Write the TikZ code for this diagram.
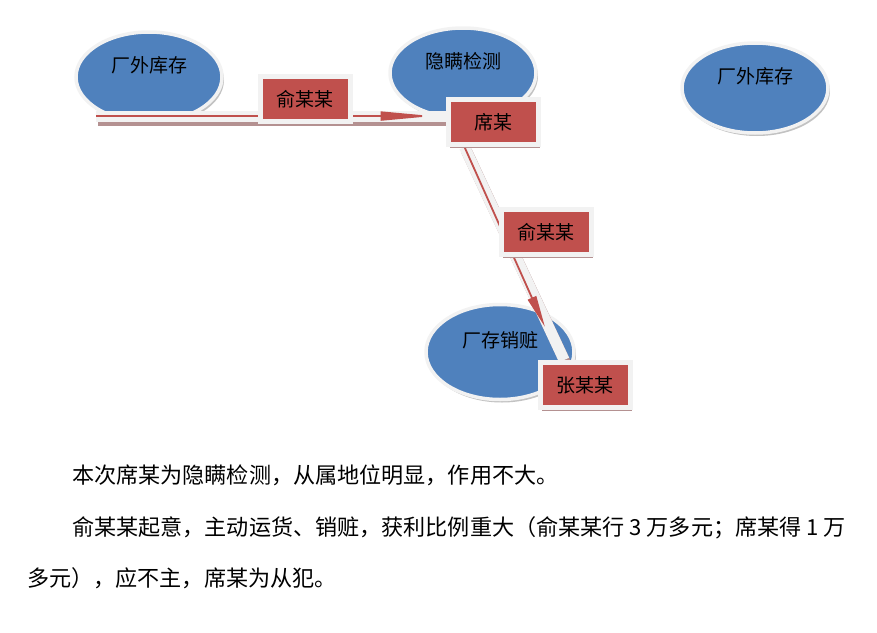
\documentclass[tikz,border=0pt]{standalone}
\usepackage{fontspec}
\newfontfamily\cjk{Noto Sans CJK SC}
\usetikzlibrary{shapes.geometric,shadows,arrows.meta,calc}
\definecolor{ellblue}{RGB}{79,129,189}
\definecolor{boxred}{RGB}{192,80,77}
\definecolor{rimgray}{RGB}{242,242,242}
\definecolor{shadowred}{RGB}{180,145,145}
\pgfdeclarelayer{places}
\pgfdeclarelayer{links}
\pgfsetlayers{places,links,main}
\begin{document}
\begin{tikzpicture}[x=1pt, y=-1pt,
    place/.style={ellipse, fill=ellblue, draw=rimgray, line width=3.5pt,
        minimum width=146pt, minimum height=90pt, inner sep=0pt,
        text height=14pt, text depth=24pt, font=\cjk\fontsize{19}{21}\selectfont,
        drop shadow={shadow xshift=2pt, shadow yshift=-3pt, fill=black!40, opacity=.6}},
    person/.style={rectangle, fill=boxred, draw=rimgray, line width=5pt,
        minimum width=90pt, minimum height=45pt, inner sep=0pt,
        font=\cjk\fontsize{19}{21}\selectfont,
        drop shadow={shadow xshift=2pt, shadow yshift=-3pt, fill=shadowred, opacity=1}},
    bandshadow/.style={shadowred, line width=11pt, transform canvas={shift={(2,4)}}},
    band/.style={rimgray, line width=11pt},
    flow/.style={boxred, line width=1.8pt},
    bodytext/.style={anchor=west, inner sep=0pt, font=\cjk\fontsize{22.1}{24}\selectfont}]
    \useasboundingbox (0,0) rectangle (877,632);

    % Places
    \begin{pgfonlayer}{places}
    \node[place] (wai1) at (149,77) {厂外库存};
    \node[place] (hide) at (463,73) {隐瞒检测};
    \node[place] (wai2) at (755,88) {厂外库存};
    \node[place, minimum width=148pt, minimum height=95pt] (sell) at (500,352) {厂存销赃};
    \end{pgfonlayer}

    % Boxes
    \node[person] (yu1) at (305,99) {俞某某};
    \node[person] (xi) at (493,122) {席某};
    \node[person] (yu2) at (546,232) {俞某某};
    \node[person] (zhang) at (585,385) {张某某};

    % Connectors, under the boxes
    \coordinate (s1) at ($(wai1.south west)+(0,6)$);
    \coordinate (e1) at (xi.west |- s1);
    \coordinate (s2) at ($(xi.south west)!0.2!(xi.south east)$);
    \coordinate (e2) at ($(zhang.north west)!0.28!(zhang.north east)$);
    \coordinate (t2) at (545,327);
    \begin{pgfonlayer}{links}
    \draw[bandshadow] (s1) -- (e1);
    \draw[band] (s1) -- (e1);
    \draw[flow, -{Triangle[length=52pt, width=9pt]}, shorten >=13pt] (s1) -- (e1);
    \draw[bandshadow] (s2) -- (e2);
    \draw[band] (s2) -- (e2);
    \draw[flow, -{Triangle[length=32pt, width=9pt]}] (s2) -- (t2);
    \end{pgfonlayer}

    % Text below the chart
    \node[bodytext] (line1) at (72,475) {本次席某为隐瞒检测，从属地位明显，作用不大。};
    \node[bodytext] (line2) at (72,528) {俞某某起意，主动运货、销赃，获利比例重大（俞某某行 3 万多元；席某得 1 万};
    \node[bodytext] (line3) at (27,578) {多元），应不主，席某为从犯。};
\end{tikzpicture}
\end{document}
